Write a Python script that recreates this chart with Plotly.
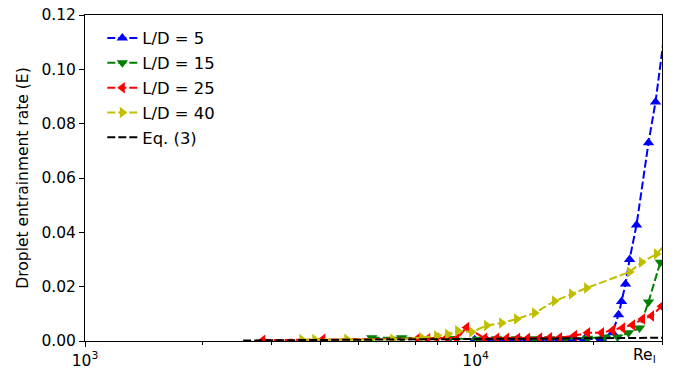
import plotly.graph_objects as go

# ---- data ----
re_ld5 = [9940, 10670, 11320, 12000, 12730, 13580, 14580, 15470, 16400, 17600, 19000, 21000,
          22410, 23210, 23630, 24190, 24770, 25810, 27700, 28870, 31000]
e_ld5 = [0.0005, 0.0004, 0.0004, 0.0005, 0.0004, 0.0005, 0.0005, 0.0005, 0.0006, 0.0006, 0.0007, 0.0008,
         0.0030, 0.0097, 0.0145, 0.0210, 0.0300, 0.0427, 0.0730, 0.0880, 0.1220]

re_ld15 = [5420, 6467, 8581, 10118, 11320, 12730, 14160, 15470, 17000, 19340, 21380, 23080,
           24620, 26270, 27700, 29700]
e_ld15 = [0.0012, 0.0012, 0.0009, 0.0006, 0.0008, 0.0008, 0.0008, 0.0008, 0.0009, 0.0010, 0.0015, 0.0015,
          0.0030, 0.0048, 0.0144, 0.0290]

re_ld25 = [2852, 4062, 7106, 7537, 7948, 8431, 8942, 9484, 10544, 11318, 12004, 12807, 13583, 14581,
           15465, 16400, 17914, 19340, 21000, 22410, 23770, 25210, 26740, 28190, 29900]
e_ld25 = [0.0003, 0.0006, 0.0009, 0.0008, 0.0010, 0.0012, 0.0008, 0.0050, 0.0010, 0.0010, 0.0010, 0.0010,
          0.0010, 0.0011, 0.0012, 0.0012, 0.0020, 0.0030, 0.0030, 0.0040, 0.0048, 0.0059, 0.0081, 0.0092,
          0.0128]

re_ld40 = [3589, 3875, 4679, 6135, 7275, 7948, 8481, 8995, 9767, 10668, 11656, 12733, 14155, 15922,
           17600, 19230, 24770, 26580, 29040, 30430]
e_ld40 = [0.0005, 0.0005, 0.0006, 0.0006, 0.0012, 0.0018, 0.0025, 0.0038, 0.0033, 0.0057, 0.0066, 0.0081,
          0.0103, 0.0147, 0.0173, 0.0195, 0.0254, 0.0290, 0.0320, 0.0353]

re_eq3 = [2540, 5000, 10000, 20000, 31000]
e_eq3 = [0.0002, 0.0004, 0.0006, 0.0009, 0.0012]

series = [
    ("L/D = 5", re_ld5, e_ld5, "#0000ff", "triangle-up"),
    ("L/D = 15", re_ld15, e_ld15, "#008000", "triangle-down"),
    ("L/D = 25", re_ld25, e_ld25, "#ff0000", "triangle-left"),
    ("L/D = 40", re_ld40, e_ld40, "#bfbf00", "triangle-right"),
]

x_major = [1000, 10000]
x_major_text = ["10<sup>3</sup>", "10<sup>4</sup>"]
x_minor = [2000, 3000, 4000, 5000, 6000, 7000, 8000, 9000, 20000, 30000]
y_ticks = [0.0, 0.02, 0.04, 0.06, 0.08, 0.10, 0.12]

FONT = "DejaVu Sans"
FS = 15.5
DASH = "8px,3px"

fig = go.Figure()
for name, xs, ys, col, sym in series:
    fig.add_trace(go.Scatter(
        x=xs, y=ys, name=name, mode="lines+markers", legendgroup=name,
        line=dict(color=col, width=2, dash=DASH),
        marker=dict(symbol=sym, size=10, color=col, line=dict(width=0)),
        cliponaxis=True,
    ))
fig.add_trace(go.Scatter(
    x=re_eq3, y=e_eq3, name="Eq. (3)", mode="lines", legendgroup="eq3",
    line=dict(color="black", width=2, dash=DASH),
))

fig.update_layout(
    width=683, height=370,
    margin=dict(l=85, r=21, t=15, b=29, autoexpand=False),
    plot_bgcolor="white", paper_bgcolor="white",
    font=dict(family=FONT, size=FS, color="black"),
    showlegend=True,
    legend=dict(x=0.03, y=0.982, xanchor="left", yanchor="top",
                bgcolor="rgba(255,255,255,0)", borderwidth=0,
                font=dict(family=FONT, size=16.4), tracegroupgap=0.5,
                itemwidth=30),
    xaxis=dict(
        type="log", range=[3, 4.477], automargin=False,
        tickvals=x_major, ticktext=x_major_text,
        ticks="outside", ticklen=5, tickwidth=1, tickcolor="black",
        minor=dict(tickvals=x_minor, ticks="outside", ticklen=3, tickwidth=1, tickcolor="black"),
        showgrid=False, zeroline=False,
        showline=True, linecolor="black", linewidth=1, mirror=True,
        tickfont=dict(family=FONT, size=FS),
    ),
    yaxis=dict(
        range=[0, 0.12], tickvals=y_ticks, tickformat=".2f", automargin=False,
        ticks="outside", ticklen=5, tickwidth=1, tickcolor="black",
        showgrid=False, zeroline=False,
        showline=True, linecolor="black", linewidth=1, mirror=True,
        tickfont=dict(family=FONT, size=FS),
        title=dict(text="Droplet entrainment rate (E)", font=dict(family=FONT, size=FS), standoff=8),
    ),
    annotations=[dict(
        text="Re<sub>l</sub>", xref="paper", yref="paper", x=1, y=0,
        xanchor="right", yanchor="top", yshift=-3, xshift=-4, showarrow=False,
        font=dict(family=FONT, size=FS),
    )],
)

fig.write_html("out.html", config={"displayModeBar": False},
               post_script="document.body.style.margin='0';")
